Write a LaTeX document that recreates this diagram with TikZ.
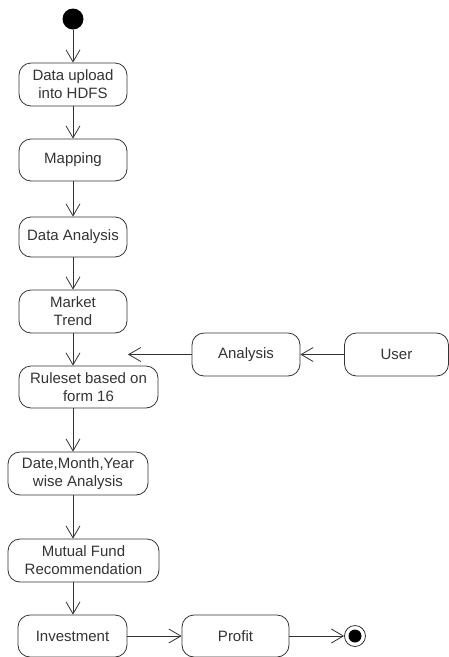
\documentclass[tikz,border=0pt]{standalone}
\usepackage{fontspec}
\setmainfont{Liberation Sans}
\usetikzlibrary{arrows.meta}

\begin{document}
\begin{tikzpicture}[x=1pt, y=-1pt,
                    actnode/.style={rectangle, draw=black!80, rounded corners=12pt, line width=0.8pt, align=center, inner sep=0pt, text=black!80, font=\fontsize{15}{18}\selectfont},
                    flow/.style={-{Straight Barb[length=12pt,width=14pt]}, line width=0.8pt, draw=black!80}
                   ]
\useasboundingbox (0,0) rectangle (449,657);
%Nodes
\node[circle, fill=black, minimum size=21pt, inner sep=0pt] (start) at (73,19) {};
\node[actnode, minimum width=108pt, minimum height=43pt] (upload)  at (73,84.5)   {Data upload\\into HDFS};
\node[actnode, minimum width=108pt, minimum height=42pt] (mapping) at (73,160)    {Mapping};
\node[actnode, minimum width=108pt, minimum height=40pt] (dataan)  at (73,237)    {Data Analysis};
\node[actnode, minimum width=108pt, minimum height=43pt] (trend)   at (73,311.5)  {Market\\Trend};
\node[actnode, minimum width=139pt, minimum height=42pt] (rules)   at (88.5,387)  {Ruleset based on\\form 16};
\node[actnode, minimum width=108pt, minimum height=43pt] (analysis) at (246,354.5) {Analysis};
\node[actnode, minimum width=104pt, minimum height=43pt] (user)    at (396.5,354.5) {User};
\node[actnode, minimum width=140pt, minimum height=43pt] (dmy)     at (78,473.5)  {Date,Month,Year\\wise Analysis};
\node[actnode, minimum width=151pt, minimum height=43pt] (fund)    at (83.5,560.5) {Mutual Fund\\Recommendation};
\node[actnode, minimum width=109pt, minimum height=42pt] (invest)  at (72.5,636)  {Investment};
\node[actnode, minimum width=107pt, minimum height=42pt] (profit)  at (235.5,636) {Profit};
\node[circle, draw=black!80, line width=0.8pt, minimum size=21pt, inner sep=0pt] (stop) at (355,636) {};
\node[circle, fill=black, minimum size=13pt, inner sep=0pt] (stopdot) at (stop) {};
\coordinate (hook) at (128,354.5);
% %Lines
\draw[flow] (start.south) -- (upload.north);
\draw[flow] (upload.south) -- (mapping.north);
\draw[flow] (mapping.south) -- (dataan.north);
\draw[flow] (dataan.south) -- (trend.north);
\draw[flow] (trend.south) -- (trend.south |- rules.north);

\draw[flow] (user.west) -- (analysis.east);
\draw[flow] (analysis.west) -- (hook);

\draw[flow] (rules.south -| trend.south) -- (dmy.north -| trend.south);
\draw[flow] (dmy.south -| trend.south) -- (fund.north -| trend.south);
\draw[flow] (fund.south -| trend.south) -- (invest.north -| trend.south);

\draw[flow] (invest.east) -- (profit.west);
\draw[flow] (profit.east) -- (stop.west);
\end{tikzpicture}
\end{document}
